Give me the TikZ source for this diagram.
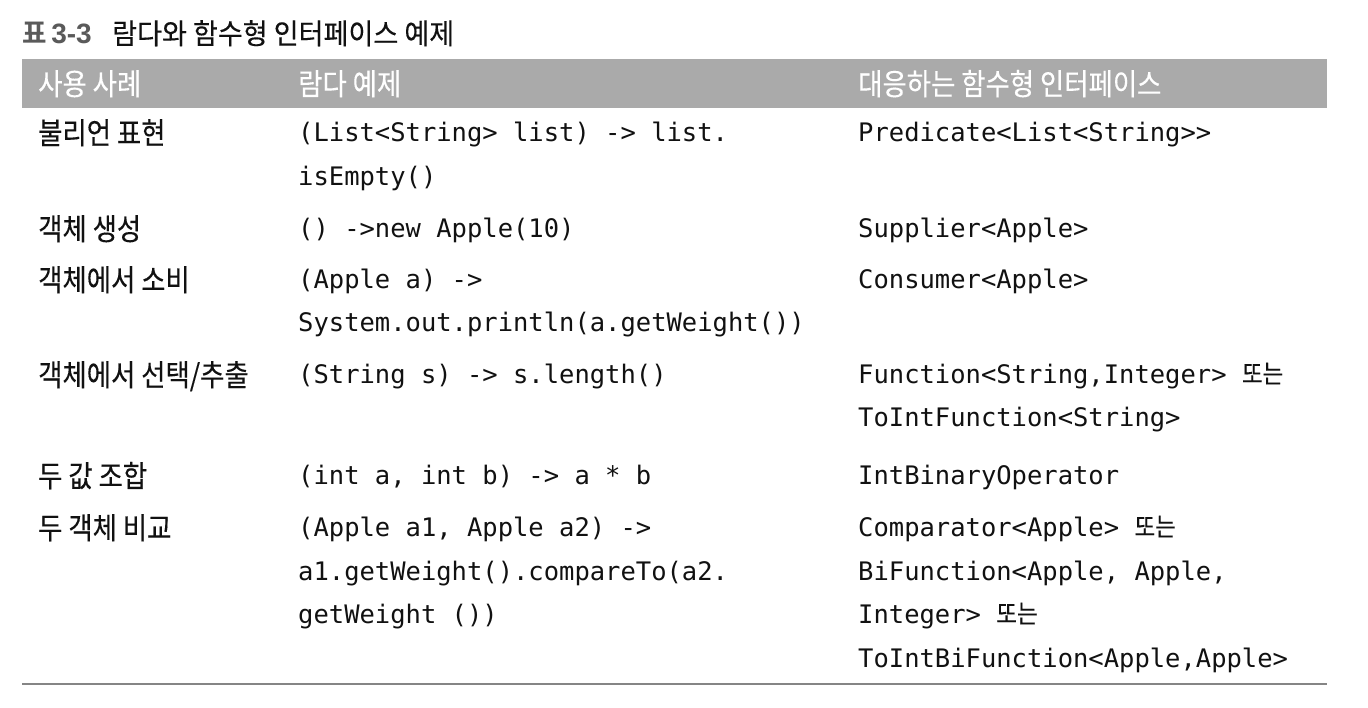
\documentclass[tikz,border=0pt]{standalone}
\usepackage{fontspec}
\setmainfont{Noto Sans CJK KR}[FakeStretch=0.88]
\newfontfamily\kr{Noto Sans CJK KR}[FakeStretch=0.88,FakeBold=0.25]
\newfontfamily\krtitle{Noto Sans CJK KR}[FakeStretch=0.95,FakeBold=0.25]
\newfontfamily\krtitlebf{Noto Sans CJK KR Bold}[FakeStretch=0.95]
\newfontfamily\digitbf{Liberation Sans Bold}
\newfontfamily\code{DejaVu Sans Mono}
\definecolor{hdrgray}{HTML}{AAAAAA}
\definecolor{rulegray}{HTML}{858585}
\definecolor{titlegray}{HTML}{5A5A5A}
\definecolor{ink}{HTML}{111111}
\tikzset{
  kor/.style={anchor=base west, inner sep=0pt, text=ink, font=\kr\fontsize{30}{32}\selectfont},
  hdr/.style={kor, text=white},
  cd/.style={anchor=base west, inner sep=0pt, text=ink, font=\code\fontsize{25.5}{30}\selectfont},
  ttl/.style={anchor=base west, inner sep=0pt, text=ink, font=\krtitle\fontsize{28.5}{32}\selectfont},
  ttlnum/.style={anchor=base west, inner sep=0pt, text=titlegray, font=\fontsize{28}{32}\selectfont},
}
\begin{document}
\begin{tikzpicture}[x=1pt,y=-1pt]
\useasboundingbox[fill=white] (0,0) rectangle (1368,707);
% title
\node[ttlnum] (tnum) at (22,43) {{\krtitlebf 표}\,{\digitbf 3-3}};
\node[ttl] (tname) at (112,44) {람다와 함수형 인터페이스 예제};
% header bar
\fill[hdrgray] (22,59) rectangle (1327,108);
\node[hdr] (h1) at (38,95) {사용 사례};
\node[hdr] (h2) at (298,95) {람다 예제};
\node[hdr] (h3) at (858,95) {대응하는 함수형 인터페이스};
% row 1
\node[kor] (r1a) at (38,144) {불리언 표현};
\node[cd] (r1b) at (298,141) {(List<String> list) -> list.};
\node[cd] (r1c) at (298,185) {isEmpty()};
\node[cd] (r1d) at (858,141) {Predicate<List<String>>};
% row 2
\node[kor] (r2a) at (38,240) {객체 생성};
\node[cd] (r2b) at (298,237) {() ->new Apple(10)};
\node[cd] (r2d) at (858,237) {Supplier<Apple>};
% row 3
\node[kor] (r3a) at (38,291) {객체에서 소비};
\node[cd] (r3b) at (298,288) {(Apple a) ->};
\node[cd] (r3c) at (298,331) {System.out.println(a.getWeight())};
\node[cd] (r3d) at (858,288) {Consumer<Apple>};
% row 4
\node[kor] (r4a) at (38,386) {객체에서 선택/추출};
\node[cd] (r4b) at (298,383) {(String s) -> s.length()};
\node[cd] (r4d) at (858,383) {Function<String,Integer> {\kr 또는}};
\node[cd] (r4e) at (858,426) {ToIntFunction<String>};
% row 5
\node[kor] (r5a) at (38,487) {두 값 조합};
\node[cd] (r5b) at (298,484) {(int a, int b) -> a * b};
\node[cd] (r5d) at (858,484) {IntBinaryOperator};
% row 6
\node[kor] (r6a) at (38,539) {두 객체 비교};
\node[cd] (r6b) at (298,536) {(Apple a1, Apple a2) ->};
\node[cd] (r6c) at (298,580) {a1.getWeight().compareTo(a2.};
\node[cd] (r6e) at (298,623) {getWeight ())};
\node[cd] (r6d) at (858,536) {Comparator<Apple> {\kr 또는}};
\node[cd] (r6f) at (858,580) {BiFunction<Apple, Apple,};
\node[cd] (r6g) at (858,623) {Integer> {\kr 또는}};
\node[cd] (r6h) at (858,667) {ToIntBiFunction<Apple,Apple>};
% bottom rule
\draw[rulegray, line width=2pt] (22,683.5) -- (1327,683.5);
\end{tikzpicture}
\end{document}
